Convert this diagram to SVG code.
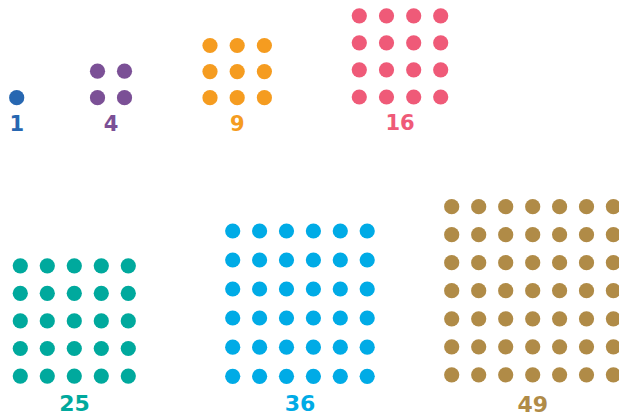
<svg xmlns="http://www.w3.org/2000/svg" width="619" height="413" viewBox="0 0 619 413">
<style>
text{font-family:"DejaVu Sans","Liberation Sans",sans-serif;font-weight:bold;text-anchor:middle}
.t{font-size:21px}.b{font-size:22px}
.c1{fill:#2767b1}.c4{fill:#7b5096}.c9{fill:#f59c20}.c16{fill:#ef5a78}.c25{fill:#00a99d}.c36{fill:#00abe6}.c49{fill:#b08b47}
</style>
<defs><circle id="d" r="7.6"/></defs>
<rect width="619" height="413" fill="#fff"/>
<g id="n1" class="c1">
<use href="#d" x="16.7" y="97.7"/>
<text class="t" x="16.7" y="130.5">1</text>
</g>
<g id="n4" class="c4">
<use href="#d" x="97.5" y="71.2"/><use href="#d" x="124.5" y="71.2"/>
<use href="#d" x="97.5" y="97.7"/><use href="#d" x="124.5" y="97.7"/>
<text class="t" x="111" y="130.5">4</text>
</g>
<g id="n9" class="c9">
<use href="#d" x="210" y="45.5"/><use href="#d" x="237.2" y="45.5"/><use href="#d" x="264.4" y="45.5"/>
<use href="#d" x="210" y="71.6"/><use href="#d" x="237.2" y="71.6"/><use href="#d" x="264.4" y="71.6"/>
<use href="#d" x="210" y="97.7"/><use href="#d" x="237.2" y="97.7"/><use href="#d" x="264.4" y="97.7"/>
<text class="t" x="237.2" y="130.5">9</text>
</g>
<g id="n16" class="c16">
<use href="#d" x="359.3" y="15.8"/><use href="#d" x="386.5" y="15.8"/><use href="#d" x="413.7" y="15.8"/><use href="#d" x="440.7" y="15.8"/>
<use href="#d" x="359.3" y="42.8"/><use href="#d" x="386.5" y="42.8"/><use href="#d" x="413.7" y="42.8"/><use href="#d" x="440.7" y="42.8"/>
<use href="#d" x="359.3" y="69.8"/><use href="#d" x="386.5" y="69.8"/><use href="#d" x="413.7" y="69.8"/><use href="#d" x="440.7" y="69.8"/>
<use href="#d" x="359.3" y="97"/><use href="#d" x="386.5" y="97"/><use href="#d" x="413.7" y="97"/><use href="#d" x="440.7" y="97"/>
<text class="t" x="400" y="130">16</text>
</g>
<g id="n25" class="c25">
<use href="#d" x="20.3" y="265.8"/><use href="#d" x="47.3" y="265.8"/><use href="#d" x="74.3" y="265.8"/><use href="#d" x="101.3" y="265.8"/><use href="#d" x="128.3" y="265.8"/>
<use href="#d" x="20.3" y="293.3"/><use href="#d" x="47.3" y="293.3"/><use href="#d" x="74.3" y="293.3"/><use href="#d" x="101.3" y="293.3"/><use href="#d" x="128.3" y="293.3"/>
<use href="#d" x="20.3" y="320.9"/><use href="#d" x="47.3" y="320.9"/><use href="#d" x="74.3" y="320.9"/><use href="#d" x="101.3" y="320.9"/><use href="#d" x="128.3" y="320.9"/>
<use href="#d" x="20.3" y="348.5"/><use href="#d" x="47.3" y="348.5"/><use href="#d" x="74.3" y="348.5"/><use href="#d" x="101.3" y="348.5"/><use href="#d" x="128.3" y="348.5"/>
<use href="#d" x="20.3" y="376.1"/><use href="#d" x="47.3" y="376.1"/><use href="#d" x="74.3" y="376.1"/><use href="#d" x="101.3" y="376.1"/><use href="#d" x="128.3" y="376.1"/>
<text class="b" x="74.5" y="410.5">25</text>
</g>
<g id="n36" class="c36">
<use href="#d" x="232.7" y="231"/><use href="#d" x="259.6" y="231"/><use href="#d" x="286.5" y="231"/><use href="#d" x="313.4" y="231"/><use href="#d" x="340.3" y="231"/><use href="#d" x="367.2" y="231"/>
<use href="#d" x="232.7" y="260"/><use href="#d" x="259.6" y="260"/><use href="#d" x="286.5" y="260"/><use href="#d" x="313.4" y="260"/><use href="#d" x="340.3" y="260"/><use href="#d" x="367.2" y="260"/>
<use href="#d" x="232.7" y="289"/><use href="#d" x="259.6" y="289"/><use href="#d" x="286.5" y="289"/><use href="#d" x="313.4" y="289"/><use href="#d" x="340.3" y="289"/><use href="#d" x="367.2" y="289"/>
<use href="#d" x="232.7" y="318"/><use href="#d" x="259.6" y="318"/><use href="#d" x="286.5" y="318"/><use href="#d" x="313.4" y="318"/><use href="#d" x="340.3" y="318"/><use href="#d" x="367.2" y="318"/>
<use href="#d" x="232.7" y="347.2"/><use href="#d" x="259.6" y="347.2"/><use href="#d" x="286.5" y="347.2"/><use href="#d" x="313.4" y="347.2"/><use href="#d" x="340.3" y="347.2"/><use href="#d" x="367.2" y="347.2"/>
<use href="#d" x="232.7" y="376.3"/><use href="#d" x="259.6" y="376.3"/><use href="#d" x="286.5" y="376.3"/><use href="#d" x="313.4" y="376.3"/><use href="#d" x="340.3" y="376.3"/><use href="#d" x="367.2" y="376.3"/>
<text class="b" x="300" y="411">36</text>
</g>
<g id="n49" class="c49">
<use href="#d" x="451.7" y="206.7"/><use href="#d" x="478.7" y="206.7"/><use href="#d" x="505.7" y="206.7"/><use href="#d" x="532.7" y="206.7"/><use href="#d" x="559.6" y="206.7"/><use href="#d" x="586.5" y="206.7"/><use href="#d" x="613.4" y="206.7"/>
<use href="#d" x="451.7" y="234.7"/><use href="#d" x="478.7" y="234.7"/><use href="#d" x="505.7" y="234.7"/><use href="#d" x="532.7" y="234.7"/><use href="#d" x="559.6" y="234.7"/><use href="#d" x="586.5" y="234.7"/><use href="#d" x="613.4" y="234.7"/>
<use href="#d" x="451.7" y="262.7"/><use href="#d" x="478.7" y="262.7"/><use href="#d" x="505.7" y="262.7"/><use href="#d" x="532.7" y="262.7"/><use href="#d" x="559.6" y="262.7"/><use href="#d" x="586.5" y="262.7"/><use href="#d" x="613.4" y="262.7"/>
<use href="#d" x="451.7" y="290.7"/><use href="#d" x="478.7" y="290.7"/><use href="#d" x="505.7" y="290.7"/><use href="#d" x="532.7" y="290.7"/><use href="#d" x="559.6" y="290.7"/><use href="#d" x="586.5" y="290.7"/><use href="#d" x="613.4" y="290.7"/>
<use href="#d" x="451.7" y="318.8"/><use href="#d" x="478.7" y="318.8"/><use href="#d" x="505.7" y="318.8"/><use href="#d" x="532.7" y="318.8"/><use href="#d" x="559.6" y="318.8"/><use href="#d" x="586.5" y="318.8"/><use href="#d" x="613.4" y="318.8"/>
<use href="#d" x="451.7" y="346.8"/><use href="#d" x="478.7" y="346.8"/><use href="#d" x="505.7" y="346.8"/><use href="#d" x="532.7" y="346.8"/><use href="#d" x="559.6" y="346.8"/><use href="#d" x="586.5" y="346.8"/><use href="#d" x="613.4" y="346.8"/>
<use href="#d" x="451.7" y="374.8"/><use href="#d" x="478.7" y="374.8"/><use href="#d" x="505.7" y="374.8"/><use href="#d" x="532.7" y="374.8"/><use href="#d" x="559.6" y="374.8"/><use href="#d" x="586.5" y="374.8"/><use href="#d" x="613.4" y="374.8"/>
<text class="b" x="532.7" y="412">49</text>
</g>
</svg>
